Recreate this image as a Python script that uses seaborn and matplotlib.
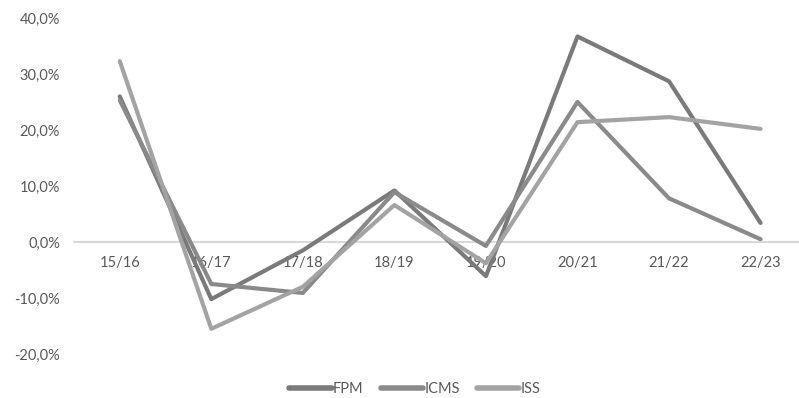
import matplotlib
matplotlib.use("Agg")
import matplotlib.pyplot as plt
import seaborn as sns
import pandas as pd
from matplotlib.ticker import FuncFormatter

# Annual growth rate of transfers and local taxes (%)
periods = ["15/16", "16/17", "17/18", "18/19", "19/20", "20/21", "21/22", "22/23"]
fpm = [26.0, -10.2, -1.5, 9.2, -6.1, 36.7, 28.7, 3.4]
icms = [25.3, -7.5, -9.1, 8.9, -0.7, 25.0, 7.8, 0.5]
iss = [32.3, -15.5, -8.0, 6.6, -3.8, 21.4, 22.3, 20.2]

series_names = ["FPM", "ICMS", "ISS"]
colors = ["#7a7a7a", "#8a8a8a", "#a3a3a3"]

df = pd.DataFrame({"FPM": fpm, "ICMS": icms, "ISS": iss})
df["pos"] = range(len(periods))
long = df.melt(id_vars="pos", var_name="serie", value_name="valor")

sns.set_theme(style="white")
plt.rcParams["font.family"] = ["Lato", "DejaVu Sans"]

fig = plt.figure(figsize=(7.99, 3.98), dpi=100)
ax = fig.add_axes([74 / 799, 44 / 398, 1 - 74 / 799, (354 - 18) / 398])

sns.lineplot(data=long, x="pos", y="valor", hue="serie", hue_order=series_names,
             palette=colors, linewidth=3, ax=ax, sort=False, estimator=None)

ax.set_ylim(-20, 40)
ax.set_xlim(-0.5, 7.42)
ax.set_yticks([-20, -10, 0, 10, 20, 30, 40])
ax.yaxis.set_major_formatter(FuncFormatter(lambda v, _: f"{v:.1f}%".replace(".", ",")))
ax.set_xticks(range(len(periods)))
ax.set_xticklabels(periods)
ax.set_xlabel("")
ax.set_ylabel("")

for s in ["top", "right", "left"]:
    ax.spines[s].set_visible(False)
ax.spines["bottom"].set_position(("data", 0))
ax.spines["bottom"].set_color("#d9d9d9")
ax.spines["bottom"].set_linewidth(1.5)
ax.spines["bottom"].set_zorder(0)

ax.tick_params(axis="both", length=0, labelsize=10.5, labelcolor="#595959")
ax.tick_params(axis="y", pad=10)
ax.tick_params(axis="x", pad=10)
ax.grid(False)

sns.move_legend(ax, "center", bbox_to_anchor=(0.47, -0.105),
                ncol=3, frameon=False, title=None, fontsize=10.5,
                handlelength=2.9, handletextpad=0.1, columnspacing=1.15,
                borderpad=0.2)
for t in ax.get_legend().get_texts():
    t.set_color("#595959")
for h in ax.get_legend().legend_handles:
    h.set_linewidth(4)

fig.savefig("out.png", dpi=100, facecolor="white")
